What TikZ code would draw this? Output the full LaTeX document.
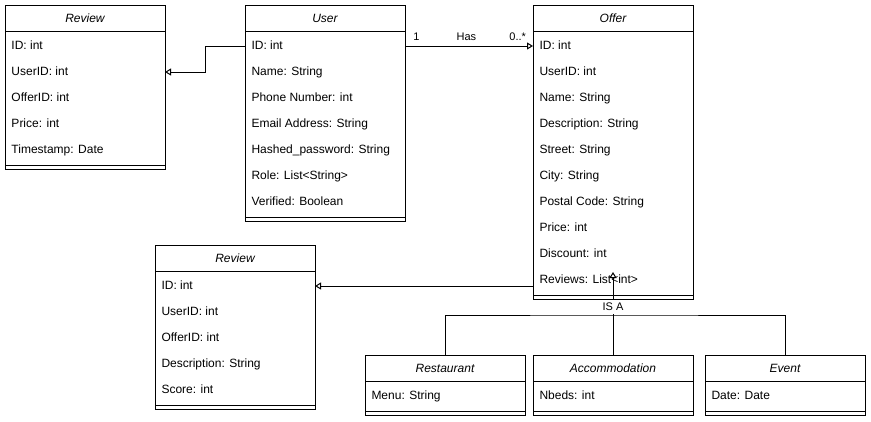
\documentclass[tikz,border=0pt]{standalone}
\usepackage{fontspec}
\setmainfont{Liberation Sans}
\usetikzlibrary{positioning,arrows.meta}

\begin{document}
\begin{tikzpicture}[x=1pt,y=-1pt,line width=1pt]
  \tikzstyle{every node}=[font=\fontsize{12}{14}\selectfont]
  \tikzstyle{head}=[draw,minimum width=160pt,minimum height=26pt,inner sep=0pt,outer sep=0pt,font=\fontsize{12}{14}\selectfont\itshape]
  \tikzstyle{body}=[draw,minimum width=160pt,inner sep=0pt,outer sep=0pt,
    path picture={\draw ([yshift=4pt]path picture bounding box.south west) -- ([yshift=4pt]path picture bounding box.south east);}]
  \tikzstyle{attr}=[anchor=west,inner sep=0pt,text height=8.6pt,text depth=2.4pt]
  \tikzstyle{assoc}=[-{Triangle[open,length=6pt,width=7pt]}]
  \tikzstyle{lbl}=[font=\fontsize{11}{13}\selectfont,inner sep=1pt]
  \useasboundingbox (0,0) rectangle (871,421);

  \node[head] (rev1) at (85,18) {Review};
  \node[body,minimum height=138pt,below=0pt of rev1] (rev1b) {};
  \foreach \txt [count=\i] in {ID: int,UserID: int,OfferID: int,Price: int,Timestamp: Date}
    \node[attr] (rev1-\i) at ([shift={(6,26*\i-11)}]rev1b.north west) {\txt};

  \node[head] (user) at (325,18) {User};
  \node[body,minimum height=190pt,below=0pt of user] (userb) {};
  \foreach \txt [count=\i] in {ID: int,Name: String,Phone Number: int,Email Address: String,Hashed\_password: String,Role: List<String>,Verified: Boolean}
    \node[attr] (user-\i) at ([shift={(6,26*\i-11)}]userb.north west) {\txt};

  \node[head] (offer) at (613,18) {Offer};
  \node[body,minimum height=268pt,below=0pt of offer] (offerb) {};
  \foreach \txt [count=\i] in {ID: int,UserID: int,Name: String,Description: String,Street: String,City: String,Postal Code: String,Price: int,Discount: int,Reviews: List<int>}
    \node[attr] (offer-\i) at ([shift={(6,26*\i-11)}]offerb.north west) {\txt};

  \node[head] (rev2) at (235,258) {Review};
  \node[body,minimum height=138pt,below=0pt of rev2] (rev2b) {};
  \foreach \txt [count=\i] in {ID: int,UserID: int,OfferID: int,Description: String,Score: int}
    \node[attr] (rev2-\i) at ([shift={(6,26*\i-11)}]rev2b.north west) {\txt};

  \node[head] (rest) at (445,368) {Restaurant};
  \node[body,minimum height=34pt,below=0pt of rest] (restb) {};
  \node[attr] (rest-1) at ([shift={(6,15)}]restb.north west) {Menu: String};

  \node[head] (acc) at (613,368) {Accommodation};
  \node[body,minimum height=34pt,below=0pt of acc] (accb) {};
  \node[attr] (acc-1) at ([shift={(6,15)}]accb.north west) {Nbeds: int};

  \node[head] (event) at (785,368) {Event};
  \node[body,minimum height=34pt,below=0pt of event] (eventb) {};
  \node[attr] (event-1) at ([shift={(6,15)}]eventb.north west) {Date: Date};

  \draw[assoc] (user-1 -| userb.west) -- ++(-40,0) |- (rev1-2 -| rev1b.east);
  \draw[assoc] (user-1 -| userb.east) -- node[lbl,pos=0.09,above=4pt] (one) {1}
    node[lbl,pos=0.48,above=4pt] (has) {Has}
    node[lbl,pos=0.88,above=4pt] (many) {0..*} (offer-1 -| offerb.west);
  \draw[assoc] (rev2-1 -| offerb.west) -- (rev2-1 -| rev2b.east);

  \coordinate (bus) at (613,315);
  \coordinate (isa) at (613,272);
  \draw (rest.north) |- (bus) -| (event.north);
  \draw[assoc] (acc.north) -- node[lbl,fill=white,inner sep=3pt,pos=0.58] (isal) {IS A} (isa);
\end{tikzpicture}
\end{document}
